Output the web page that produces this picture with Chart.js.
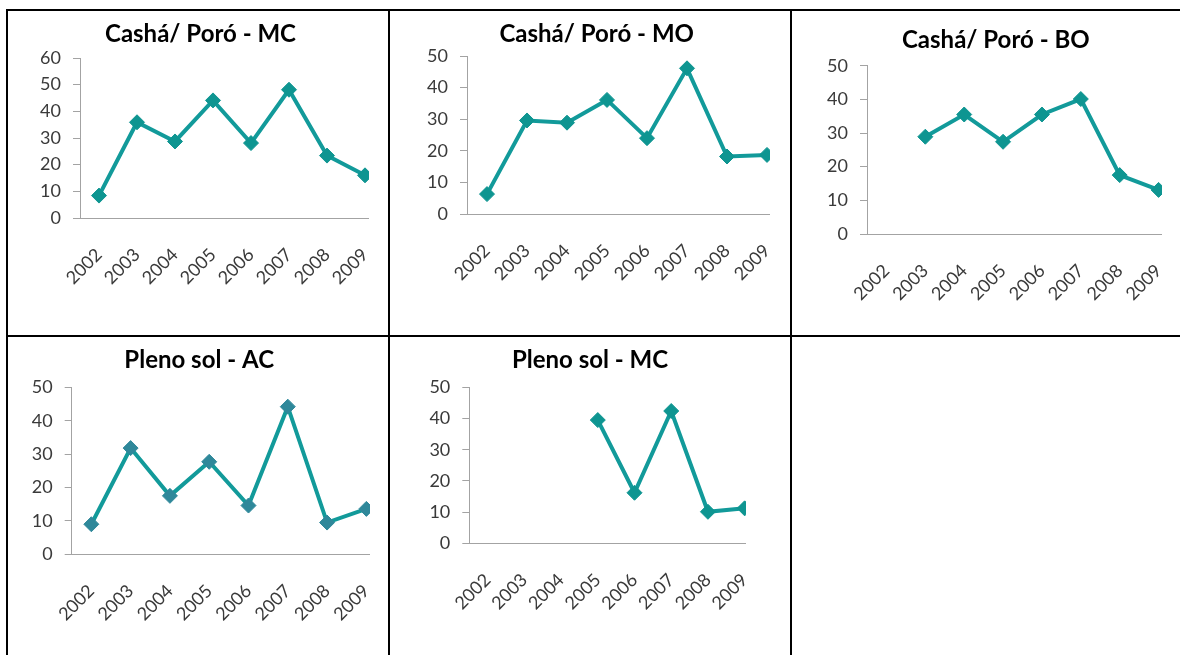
<!DOCTYPE html>
<html>
<head>
<meta charset="utf-8">
<title>Cashá/ Poró e Pleno sol</title>
<script src="https://cdn.jsdelivr.net/npm/chart.js@4.4.1/dist/chart.umd.min.js"></script>
<style>
  html, body { margin: 0; padding: 0; background: #ffffff; }
  body { width: 1180px; height: 655px; position: relative; overflow: hidden; }
  .rule { position: absolute; background: #000000; }
  .cell { position: absolute; overflow: hidden; }
  .cell canvas { position: absolute; left: 0; top: 0; }
</style>
</head>
<body>
<!-- table rules -->
<div class="rule" style="left:6px; top:9px; width:1174px; height:2px"></div>
<div class="rule" style="left:6px; top:335px; width:1174px; height:2px"></div>
<div class="rule" style="left:6px; top:9px; width:2px; height:646px"></div>
<div class="rule" style="left:388px; top:9px; width:2px; height:646px"></div>
<div class="rule" style="left:790px; top:9px; width:2px; height:646px"></div>

<div class="cell" id="cell1"><canvas id="c1"></canvas></div>
<div class="cell" id="cell2"><canvas id="c2"></canvas></div>
<div class="cell" id="cell3"><canvas id="c3"></canvas></div>
<div class="cell" id="cell4"><canvas id="c4"></canvas></div>
<div class="cell" id="cell5"><canvas id="c5"></canvas></div>

<script>
// Years on the category axis
const years = ['2002', '2003', '2004', '2005', '2006', '2007', '2008', '2009'];

// Yearly values per site (null = not sampled)
const cashaMC = [8.4, 35.9, 28.7, 44.1, 28.1, 48.1, 23.4, 16.0];
const cashaMO = [6.3, 29.6, 28.9, 36.1, 24.0, 46.1, 18.2, 18.7];
const cashaBO = [null, 28.9, 35.5, 27.4, 35.5, 40.1, 17.5, 13.1];
const plenoAC = [9.0, 31.8, 17.5, 27.7, 14.6, 44.2, 9.5, 13.6];
const plenoMC = [null, null, null, 39.5, 16.2, 42.4, 10.1, 11.2];

// Chart titles and y-axis maxima
const titles = ['Cashá/ Poró - MC', 'Cashá/ Poró - MO', 'Cashá/ Poró - BO', 'Pleno sol - AC', 'Pleno sol - MC'];
const yMax = [60, 50, 50, 50, 50];
const seriesList = [cashaMC, cashaMO, cashaBO, plenoAC, plenoMC];

// Panel geometry (cell box, axis position, category spacing, title centre, plot top/bottom)
const panels = [
  { cell: 'cell1', canvas: 'c1', left: 9,   top: 11,  w: 360, h: 323, axisX: 71,   step: 38.0, titleCx: 191.5, plotTop: 47,   plotBottom: 207,   titleCy: 23 },
  { cell: 'cell2', canvas: 'c2', left: 391, top: 11,  w: 379, h: 323, axisX: 76,   step: 40.0, titleCx: 205.7, plotTop: 45,   plotBottom: 203,   titleCy: 23.5 },
  { cell: 'cell3', canvas: 'c3', left: 793, top: 11,  w: 369, h: 323, axisX: 74,   step: 38.9, titleCx: 202.8, plotTop: 54.7, plotBottom: 223,   titleCy: 29.5 },
  { cell: 'cell4', canvas: 'c4', left: 9,   top: 337, w: 361, h: 318, axisX: 62.7, step: 39.3, titleCx: 190.2, plotTop: 50.3, plotBottom: 217.3, titleCy: 23 },
  { cell: 'cell5', canvas: 'c5', left: 391, top: 337, w: 355, h: 318, axisX: 78.3, step: 36.7, titleCx: 199,   plotTop: 50.3, plotBottom: 206.3, titleCy: 23 }
];

const LINE = '#129a9a';
const MARK = '#0e9591';
const MARK_AC = '#2f889a';
const AXIS = '#a3a3a3';
const TICK_TXT = '#3a3a3a';
const FONT = 'Lato, "Open Sans", sans-serif';

const TITLE_SIZE = 24;
const TITLE_LH = 1.2;
const TICK_SIZE = 18;

panels.forEach((p, i) => {
  const cell = document.getElementById(p.cell);
  cell.style.left = p.left + 'px';
  cell.style.top = p.top + 'px';
  cell.style.width = p.w + 'px';
  cell.style.height = p.h + 'px';

  const W = Math.round(p.axisX + years.length * p.step);
  const H = p.h;
  const canvas = document.getElementById(p.canvas);
  canvas.width = W; canvas.height = H;
  canvas.style.width = W + 'px'; canvas.style.height = H + 'px';

  const padLeft = 2 * p.titleCx - W;
  const lineBox = TITLE_SIZE * TITLE_LH;
  const tPadTop = p.titleCy - lineBox / 2;
  const tPadBottom = p.plotTop - tPadTop - lineBox;
  const markColor = i === 3 ? MARK_AC : MARK;

  new Chart(canvas, {
    type: 'line',
    data: {
      labels: years,
      datasets: [{
        data: seriesList[i],
        borderColor: LINE,
        borderWidth: 4,
        pointStyle: 'rectRot',
        pointRadius: 7.5,
        pointBorderWidth: 1,
        pointBackgroundColor: markColor,
        pointBorderColor: markColor,
        tension: 0,
        spanGaps: false,
        clip: false
      }]
    },
    options: {
      responsive: false,
      animation: false,
      devicePixelRatio: 1,
      layout: { autoPadding: false, padding: { left: padLeft, right: 0, top: 0, bottom: 0 } },
      plugins: {
        legend: { display: false },
        tooltip: { enabled: false },
        title: {
          display: true,
          text: titles[i],
          color: '#000000',
          font: { family: FONT, size: TITLE_SIZE, weight: 'bold', lineHeight: TITLE_LH },
          padding: { top: tPadTop, bottom: tPadBottom }
        }
      },
      scales: {
        x: {
          type: 'category',
          offset: true,
          grid: { display: false },
          border: { display: true, color: AXIS, width: 1 },
          ticks: {
            color: TICK_TXT,
            font: { family: FONT, size: TICK_SIZE },
            minRotation: 45,
            maxRotation: 45,
            autoSkip: false,
            padding: 18
          },
          afterFit: s => {
            s.height = H - p.plotBottom;
            s.paddingLeft = 0;
            s.paddingRight = 0;
          }
        },
        y: {
          min: 0,
          max: yMax[i],
          grid: { drawOnChartArea: false, drawTicks: true, tickLength: 7, color: AXIS, lineWidth: 1 },
          border: { display: true, color: AXIS, width: 1 },
          ticks: {
            stepSize: 10,
            color: TICK_TXT,
            font: { family: FONT, size: TICK_SIZE },
            padding: 12
          },
          afterFit: s => { s.width = p.axisX - padLeft; }
        }
      }
    }
  });
});
</script>
</body>
</html>
